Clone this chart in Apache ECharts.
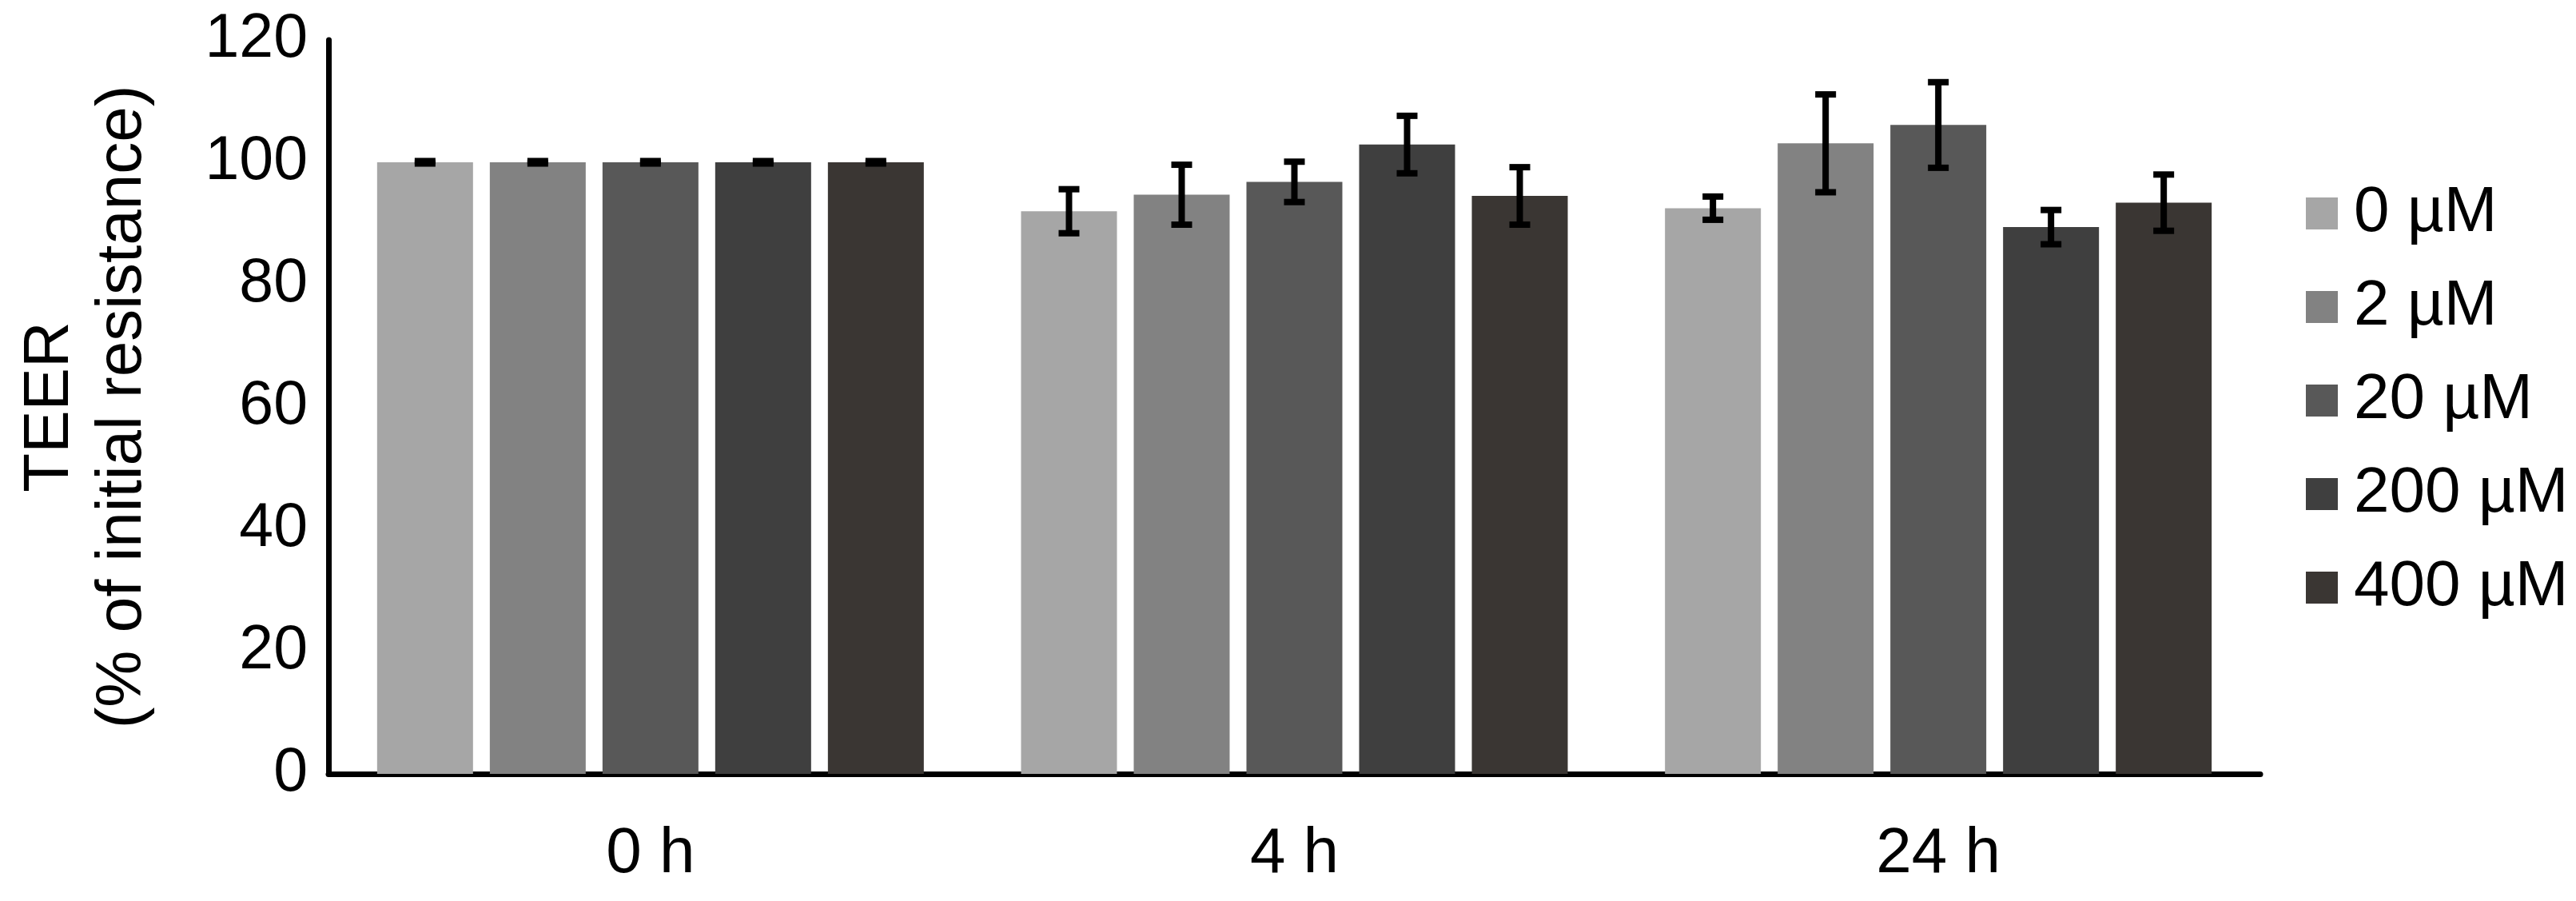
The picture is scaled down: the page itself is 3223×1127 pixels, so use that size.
<!DOCTYPE html>
<html>
<head>
<meta charset="utf-8">
<script src="https://cdn.jsdelivr.net/npm/echarts@6/dist/echarts.min.js"></script>
<style>
  html, body { margin: 0; padding: 0; background: #fff; }
  #chart { width: 3223px; height: 1127px; }
</style>
</head>
<body>
<div id="chart"></div>
<script>
// ---------------- data ----------------
const categories = ['0 h', '4 h', '24 h'];
const seriesNames = ['0 µM', '2 µM', '20 µM', '200 µM', '400 µM'];

const mean0uM   = [100, 92.0, 92.5];
const mean2uM   = [100, 94.7, 103.1];
const mean20uM  = [100, 96.8, 106.1];
const mean200uM = [100, 102.9, 89.4];
const mean400uM = [100, 94.5, 93.4];

const err0uM   = [0.2, 3.6, 1.9];
const err2uM   = [0.2, 4.9, 8.0];
const err20uM  = [0.2, 3.3, 7.0];
const err200uM = [0.2, 4.7, 2.8];
const err400uM = [0.2, 4.7, 4.6];

const yMin = 0, yMax = 120, yStep = 20;

// ---------------- styling ----------------
const FONT = "'Liberation Sans', Arial, sans-serif";
const colors = ['#a6a6a6', '#828282', '#585858', '#3f3f3f', '#3a3633'];
const BAR_W = 120;
const BAR_GAP_PX = 21;
const STEM_W = 8;
const CAP_W = 26;
const CAP_H = 8;

const means = [mean0uM, mean2uM, mean20uM, mean200uM, mean400uM];
const errs = [err0uM, err2uM, err20uM, err200uM, err400uM];

const barSeries = seriesNames.map((name, i) => ({
  type: 'bar',
  name: name,
  data: means[i],
  barWidth: BAR_W,
  barGap: (BAR_GAP_PX / BAR_W * 100) + '%',
  itemStyle: { color: colors[i] },
  z: 2
}));

const errSeries = seriesNames.map((name, i) => ({
  type: 'custom',
  name: name + ' err',
  silent: true,
  z: 10,
  encode: { x: 0, y: 1 },
  data: categories.map((c, k) => [k, means[i][k], errs[i][k]]),
  renderItem: function (params, api) {
    const k = api.value(0), m = api.value(1), e = api.value(2);
    const base = api.coord([k, m]);
    const x = base[0] + (i - (seriesNames.length - 1) / 2) * (BAR_W + BAR_GAP_PX);
    const yt = api.coord([k, m + e])[1];
    const yb = api.coord([k, m - e])[1];
    return {
      type: 'group',
      children: [
        { type: 'rect', shape: { x: x - STEM_W / 2, y: yt, width: STEM_W, height: yb - yt }, style: { fill: '#000' } },
        { type: 'rect', shape: { x: x - CAP_W / 2, y: yt - CAP_H / 2, width: CAP_W, height: CAP_H }, style: { fill: '#000' } },
        { type: 'rect', shape: { x: x - CAP_W / 2, y: yb - CAP_H / 2, width: CAP_W, height: CAP_H }, style: { fill: '#000' } }
      ]
    };
  }
}));

const chart = echarts.init(document.getElementById('chart'), null, { renderer: 'canvas' });
chart.setOption({
  animation: false,
  backgroundColor: '#ffffff',
  textStyle: { fontFamily: FONT, color: '#000' },
  grid: {
    left: 411, top: 50, width: 2417, height: 918,
    outerBoundsMode: 'none', containLabel: false
  },
  legend: {
    data: seriesNames,
    orient: 'vertical',
    left: 2880,
    top: 222,
    itemWidth: 40,
    itemHeight: 40,
    itemGap: 37,
    icon: 'rect',
    selectedMode: false,
    textStyle: { fontFamily: FONT, fontSize: 80, color: '#000', lineHeight: 40, padding: [0, 0, 0, 15] }
  },
  xAxis: {
    type: 'category',
    data: categories,
    axisLine: { show: true, lineStyle: { color: '#000', width: 7 } },
    axisTick: { show: false },
    splitLine: { show: false },
    axisLabel: { fontFamily: FONT, fontSize: 80, color: '#000', margin: 61, lineHeight: 80 }
  },
  yAxis: {
    type: 'value',
    min: yMin, max: yMax, interval: yStep,
    name: 'TEER\n(% of initial resistance)',
    nameLocation: 'middle',
    nameRotate: 90,
    nameGap: 212,
    nameTextStyle: { fontFamily: FONT, fontSize: 80, color: '#000', lineHeight: 91 },
    axisLine: { show: true, lineStyle: { color: '#000', width: 7 } },
    axisTick: { show: false },
    splitLine: { show: false },
    axisLabel: { fontFamily: FONT, fontSize: 77, color: '#000', margin: 26 }
  },
  series: barSeries.concat(errSeries)
});
</script>
</body>
</html>
